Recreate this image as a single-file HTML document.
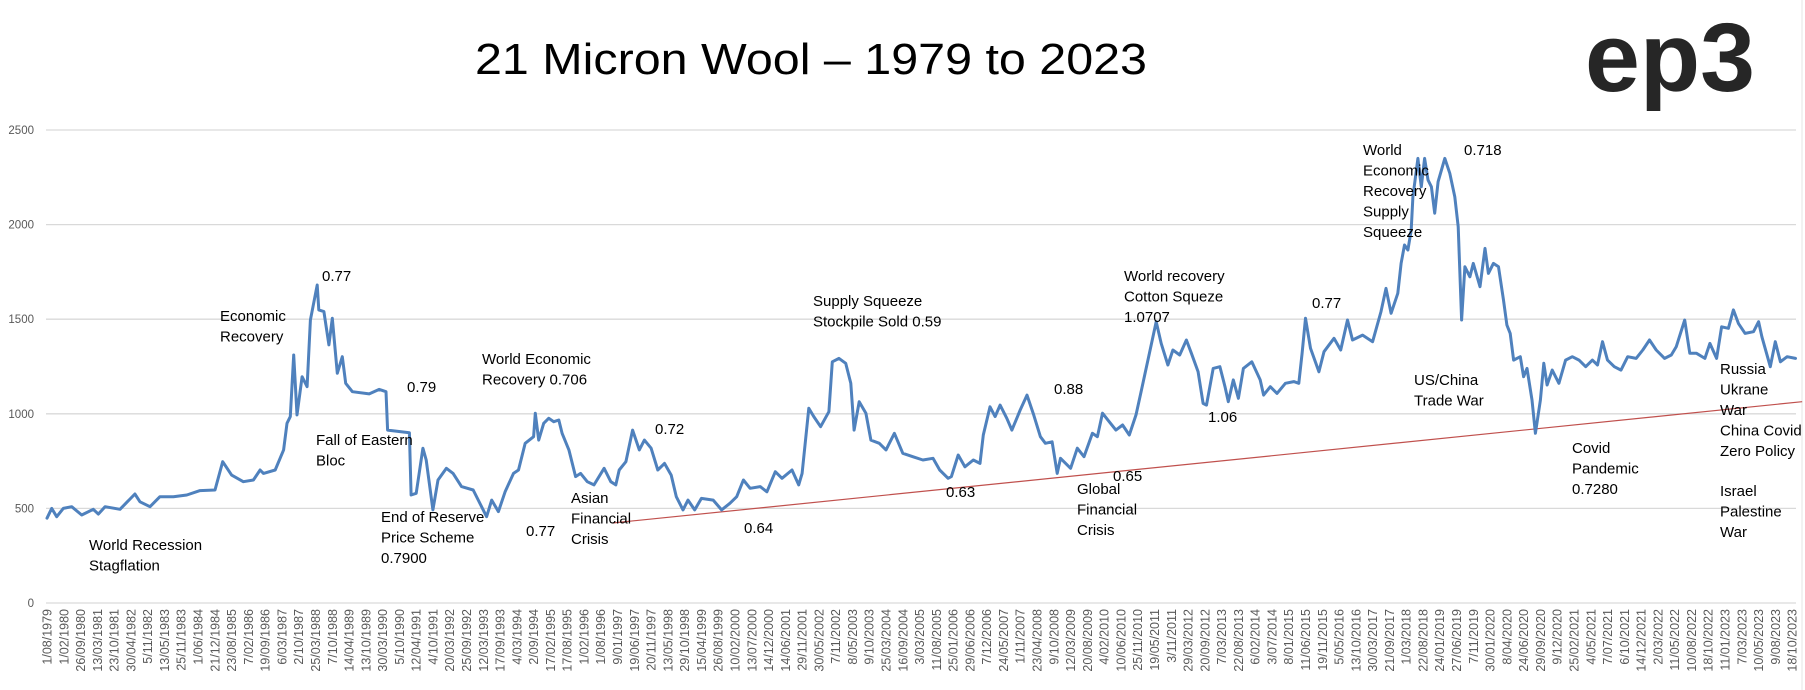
<!DOCTYPE html>
<html>
<head>
<meta charset="utf-8">
<style>
html,body{margin:0;padding:0;background:#fff;}
svg{display:block;}
.ann{font-family:"Liberation Sans",sans-serif;font-size:15px;fill:#000;}
.ytick{font-family:"Liberation Sans",sans-serif;font-size:11.5px;fill:#595959;}
.xtick{font-family:"Liberation Sans",sans-serif;font-size:12.5px;fill:#595959;}
</style>
</head>
<body>
<svg id="chart" width="1805" height="690" viewBox="0 0 1805 690" xmlns="http://www.w3.org/2000/svg">
  <rect x="0" y="0" width="1805" height="690" fill="#fff"/>
  <line x1="1802" y1="0" x2="1802" y2="690" stroke="#e6e6e6" stroke-width="1"/>
  <text x="811" y="74" text-anchor="middle" font-family="'Liberation Sans',sans-serif" font-size="44" fill="#000" textLength="672" lengthAdjust="spacingAndGlyphs">21 Micron Wool – 1979 to 2023</text>
  <text x="1585" y="91" font-family="'Liberation Sans',sans-serif" font-weight="bold" font-size="97" fill="#262626" textLength="170" lengthAdjust="spacingAndGlyphs">ep3</text>
  <g id="grid"></g>
  <g id="yaxis"></g>
  <g id="xaxis"></g>
  <g id="trend"></g>
  <g id="series"></g>
  <g id="annotations"></g>
</svg>
<script>
// Category axis: position expressed in label-index units (0 = first label, 104 = last label)
const xLabels = ["1/08/1979","1/02/1980","26/09/1980","13/03/1981","23/10/1981","30/04/1982","5/11/1982","13/05/1983","25/11/1983","1/06/1984","21/12/1984","23/08/1985","7/02/1986","19/09/1986","6/03/1987","2/10/1987","25/03/1988","7/10/1988","14/04/1989","13/10/1989","30/03/1990","5/10/1990","12/04/1991","4/10/1991","20/03/1992","25/09/1992","12/03/1993","17/09/1993","4/03/1994","2/09/1994","17/02/1995","17/08/1995","1/02/1996","1/08/1996","9/01/1997","19/06/1997","20/11/1997","13/05/1998","29/10/1998","15/04/1999","26/08/1999","10/02/2000","13/07/2000","14/12/2000","14/06/2001","29/11/2001","30/05/2002","7/11/2002","8/05/2003","9/10/2003","25/03/2004","16/09/2004","3/03/2005","11/08/2005","25/01/2006","29/06/2006","7/12/2006","24/05/2007","1/11/2007","23/04/2008","9/10/2008","12/03/2009","20/08/2009","4/02/2010","10/06/2010","25/11/2010","19/05/2011","3/11/2011","29/03/2012","20/09/2012","7/03/2013","22/08/2013","6/02/2014","3/07/2014","8/01/2015","11/06/2015","19/11/2015","5/05/2016","13/10/2016","30/03/2017","21/09/2017","1/03/2018","22/08/2018","24/01/2019","27/06/2019","7/11/2019","30/01/2020","8/04/2020","24/06/2020","29/09/2020","9/12/2020","25/02/2021","4/05/2021","7/07/2021","6/10/2021","14/12/2021","2/03/2022","11/05/2022","10/08/2022","18/10/2022","11/01/2023","7/03/2023","10/05/2023","9/08/2023","18/10/2023"];
const yTicks = [0,500,1000,1500,2000,2500];
const seriesPos = [0,0.28,0.58,0.97,1.47,2.07,2.76,3.06,3.46,4.35,5.24,5.54,6.14,6.73,7.53,8.33,9.12,10.01,10.47,11.0,11.7,12.3,12.7,12.9,13.6,14.1,14.3,14.5,14.7,14.9,15.2,15.5,15.7,16.1,16.2,16.5,16.8,17.0,17.3,17.6,17.8,18.2,19.2,19.8,20.2,20.3,21.6,21.7,22.0,22.4,22.6,23.0,23.3,23.8,24.2,24.7,25.4,26.2,26.5,26.9,27.3,27.8,28.1,28.5,29.0,29.1,29.3,29.6,29.9,30.2,30.5,30.7,31.1,31.5,31.8,32.2,32.6,33.2,33.6,33.9,34.1,34.5,34.9,35.3,35.6,36.0,36.4,36.8,37.2,37.5,37.9,38.2,38.6,39.0,39.7,40.2,40.7,41.1,41.5,41.9,42.5,42.9,43.4,43.8,44.4,44.8,45.0,45.4,45.7,46.1,46.6,46.8,47.2,47.6,47.9,48.1,48.4,48.8,49.1,49.6,50.0,50.5,51.0,51.6,52.2,52.8,53.2,53.7,53.9,54.3,54.7,55.2,55.6,55.8,56.2,56.5,56.8,57.2,57.5,58.0,58.4,58.8,59.2,59.5,59.9,60.2,60.4,61.0,61.4,61.8,62.3,62.6,62.9,63.3,63.7,64.1,64.5,64.9,65.2,65.7,66.1,66.4,66.8,67.1,67.5,67.9,68.2,68.6,68.9,69.1,69.5,69.9,70.2,70.4,70.7,71.0,71.3,71.8,72.3,72.5,72.9,73.3,73.8,74.3,74.6,74.8,75.0,75.3,75.8,76.1,76.7,77.1,77.5,77.8,78.4,79.0,79.5,79.8,80.1,80.5,80.7,80.9,81.1,81.3,81.4,81.7,81.9,82.1,82.3,82.5,82.7,82.9,83.3,83.6,83.9,84.1,84.3,84.5,84.8,85.0,85.4,85.7,85.9,86.2,86.5,86.8,87.0,87.2,87.4,87.8,88.0,88.2,88.5,88.7,89.0,89.2,89.4,89.7,90.1,90.5,90.9,91.3,91.7,92.1,92.4,92.7,93.0,93.4,93.8,94.2,94.7,95.1,95.5,95.9,96.4,96.8,97.1,97.6,97.9,98.3,98.8,99.1,99.5,99.8,100.2,100.5,100.8,101.2,101.7,102.0,102.2,102.7,103.0,103.3,103.7,104.2];
const seriesPrice = [448,500,456,500,509,465,495,470,509,495,576,535,509,562,562,571,594,597,747,676,641,650,703,685,703,809,950,985,1311,994,1196,1143,1496,1681,1549,1540,1364,1505,1214,1302,1161,1117,1105,1129,1117,914,900,571,580,818,756,492,650,712,685,615,597,456,544,483,588,685,703,844,879,1003,861,950,976,958,967,897,809,668,685,641,624,712,641,624,703,747,914,809,861,818,703,738,676,562,492,544,492,553,544,492,527,562,650,606,615,588,694,659,703,624,685,1029,985,932,1011,1275,1293,1267,1161,914,1064,1003,861,844,809,897,791,773,756,765,703,659,668,782,720,756,738,888,1037,985,1046,976,914,1020,1099,994,879,844,852,685,765,712,818,773,897,879,1003,958,914,941,888,994,1117,1320,1487,1372,1258,1337,1311,1390,1320,1222,1055,1046,1240,1249,1143,1064,1179,1082,1240,1275,1179,1099,1143,1108,1161,1170,1161,1320,1505,1346,1222,1328,1399,1337,1496,1390,1416,1381,1540,1663,1531,1637,1795,1892,1866,1971,2147,2350,2200,2350,2236,2200,2060,2227,2350,2271,2147,1989,1496,1777,1724,1795,1672,1874,1742,1795,1777,1601,1469,1425,1284,1302,1196,1240,1073,897,1073,1267,1152,1231,1161,1284,1302,1284,1249,1284,1258,1381,1284,1249,1231,1302,1293,1337,1390,1337,1293,1311,1355,1496,1320,1320,1293,1372,1293,1460,1452,1549,1478,1425,1434,1487,1407,1249,1381,1275,1302,1293];
const trendPos = [33.7,104.6];
const trendPrice = [423,1064];
const annotationText = [
 ["World Recession","Stagflation"],["Economic","Recovery"],["0.77"],["Fall of Eastern","Bloc"],["0.79"],
 ["End  of Reserve","Price Scheme","0.7900"],["World Economic","Recovery  0.706"],["0.77"],["Asian","Financial","Crisis"],
 ["0.72"],["0.64"],["Supply Squeeze","Stockpile Sold  0.59"],["0.63"],["0.88"],["Global","Financial","Crisis"],["0.65"],
 ["World recovery","Cotton Squeze","1.0707"],["1.06"],["0.77"],["World","Economic","Recovery","Supply","Squeeze"],["0.718"],
 ["US/China","Trade  War"],["Covid","Pandemic","0.7280"],["Russia","Ukrane","War","China Covid","Zero Policy"],["Israel","Palestine","War"]
];
const annotationAnchor = [[89,550],[220,321],[322,281],[316,445],[407,392],[381,522],[482,364],[526,536],[571,503],[655,434],[744,533],[813,306],[946,497],[1054,394],[1077,494],[1113,481],[1124,281],[1208,422],[1312,308],[1363,155],[1464,155],[1414,385],[1572,453],[1720,374],[1720,496]];

const NS = "http://www.w3.org/2000/svg";
const X0 = 47, XSTEP = 16.78, PLOT_L = 46, PLOT_R = 1796, Y0 = 603, YTOP = 130, YMAX = 2500;
function xScale(p){ return X0 + p * XSTEP; }
function yScale(v){ return Y0 - (v / YMAX) * (Y0 - YTOP); }
function mk(tag, attrs){ const e = document.createElementNS(NS, tag); for (const k in attrs) e.setAttribute(k, attrs[k]); return e; }

const grid = document.getElementById('grid');
const yaxis = document.getElementById('yaxis');
yTicks.forEach(function(t){
  const y = yScale(t);
  const ln = mk('line', {x1: PLOT_L, x2: PLOT_R, y1: y, y2: y, stroke: '#d9d9d9', 'stroke-width': 1.3});
  
  
  grid.appendChild(ln);
  const tx = mk('text', {x: 34, y: y + 4, 'text-anchor': 'end', class: 'ytick'});
  tx.textContent = String(t);
  
  
  yaxis.appendChild(tx);
});

const xaxis = document.getElementById('xaxis');
xLabels.forEach(function(lbl, i){
  const x = xScale(i) + 4.5;
  const tx = mk('text', {x: x, y: 609, 'text-anchor': 'end', class: 'xtick', transform: 'rotate(-90 ' + x + ' 609)'});
  tx.textContent = lbl;
  
  
  xaxis.appendChild(tx);
});

const trendG = document.getElementById('trend');
const tl = mk('line', {x1: xScale(trendPos[0]), y1: yScale(trendPrice[0]), x2: xScale(trendPos[1]), y2: yScale(trendPrice[1]), stroke: '#c0504d', 'stroke-width': 1.2});


trendG.appendChild(tl);

const seriesG = document.getElementById('series');
let d = '';
seriesPos.forEach(function(p, i){ d += (i ? 'L' : 'M') + xScale(p).toFixed(1) + ',' + yScale(seriesPrice[i]).toFixed(1); });
const path = mk('path', {d: d, fill: 'none', stroke: '#4f81bd', 'stroke-width': 3, 'stroke-linejoin': 'round', 'stroke-linecap': 'round'});


seriesG.appendChild(path);

const annG = document.getElementById('annotations');
annotationText.forEach(function(lines, i){
  const a = annotationAnchor[i];
  const t = mk('text', {x: a[0], y: a[1], class: 'ann'});
  
  
  lines.forEach(function(s, j){
    const sp = mk('tspan', {x: a[0], dy: j ? 20.5 : 0});
    sp.textContent = s;
    t.appendChild(sp);
  });
  annG.appendChild(t);
});
</script>
</body>
</html>
